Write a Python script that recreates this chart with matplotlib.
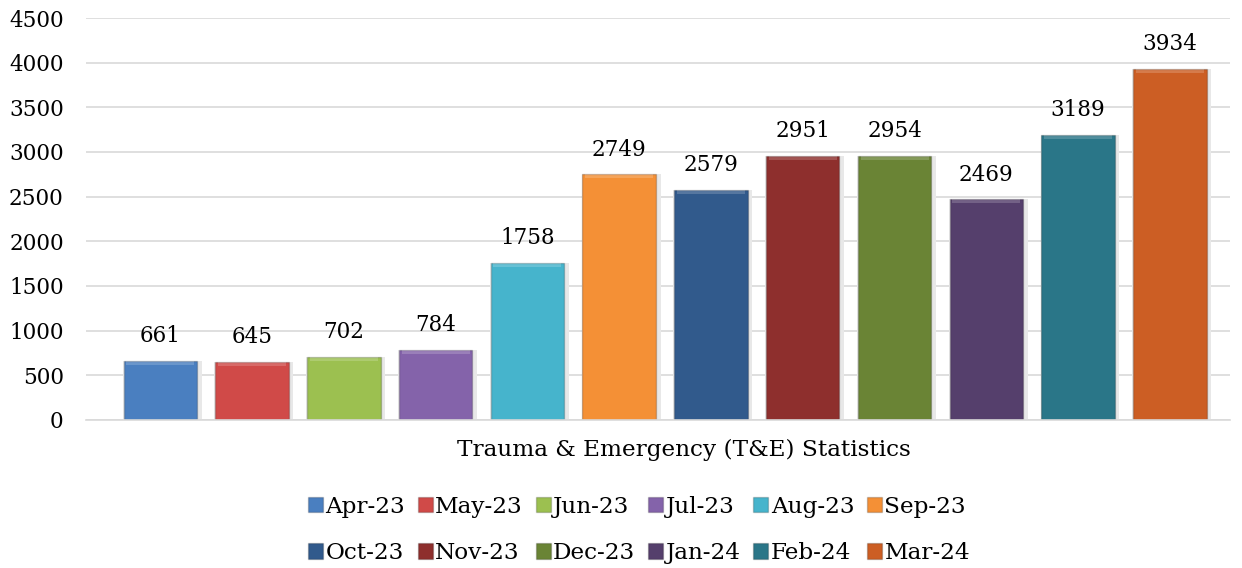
import matplotlib.pyplot as plt
import numpy as np

# monthly T&E counts
months = ['Apr-23', 'May-23', 'Jun-23', 'Jul-23', 'Aug-23', 'Sep-23',
          'Oct-23', 'Nov-23', 'Dec-23', 'Jan-24', 'Feb-24', 'Mar-24']
counts = [661, 645, 702, 784, 1758, 2749, 2579, 2951, 2954, 2469, 3189, 3934]
colors = ['#4a7fc0', '#d04a48', '#9cc050', '#8463aa', '#46b4cc', '#f49036',
          '#315a8c', '#8e2f2d', '#6a8435', '#553f6c', '#2a7688', '#cc5e24']
category = 'Trauma & Emergency (T&E) Statistics'

plt.rcParams['font.family'] = ['DejaVu Serif']

fig = plt.figure(figsize=(12.42, 5.68), dpi=100)
ax = fig.add_axes([0.0692, 0.2606, 0.9208, 0.7077])

x = np.arange(len(months))
# soft shadow behind each bar
ax.bar(x + 0.02, counts, width=0.86, color='#e8e8e8', zorder=1)
bars = ax.bar(x, counts, width=0.8, color=colors, edgecolor='#00000030',
              linewidth=1, zorder=2)
# lighter bevel strip on top
for xi, v in zip(x, counts):
    ax.bar(xi, 45, bottom=v - 45, width=0.74, color='white', alpha=0.18, zorder=3)
    ax.annotate(str(v), (xi, v), xytext=(0, 10), textcoords='offset points',
                ha='center', va='bottom', fontsize=15.5)

ax.set_ylim(0, 4500)
ax.set_xlim(-0.81, 11.65)
ax.set_yticks(range(0, 4501, 500))
ax.yaxis.grid(True, color='#d9d9d9', linewidth=1.2)
ax.set_axisbelow(True)
for s in ['top', 'right', 'left']:
    ax.spines[s].set_visible(False)
ax.spines['bottom'].set_color('#d9d9d9')
ax.spines['bottom'].set_linewidth(1.2)
ax.set_xticks([])
ax.tick_params(axis='y', length=0, labelsize=15.5, pad=16)

fig.text(684 / 1242, 1 - 450 / 568, category, ha='center', va='center', fontsize=16.7)

# legend fills column by column, so interleave to get row order
order = [i + 6 * r for i in range(6) for r in range(2)]
fig.legend([bars[i] for i in order], [months[i] for i in order], ncol=6,
           loc='center', bbox_to_anchor=(639 / 1242, 1 - 530 / 568),
           frameon=False, fontsize=16.7, handlelength=0.65, handleheight=0.65,
           handletextpad=0.1, columnspacing=0.55, labelspacing=1.05)

plt.savefig('out.png')
